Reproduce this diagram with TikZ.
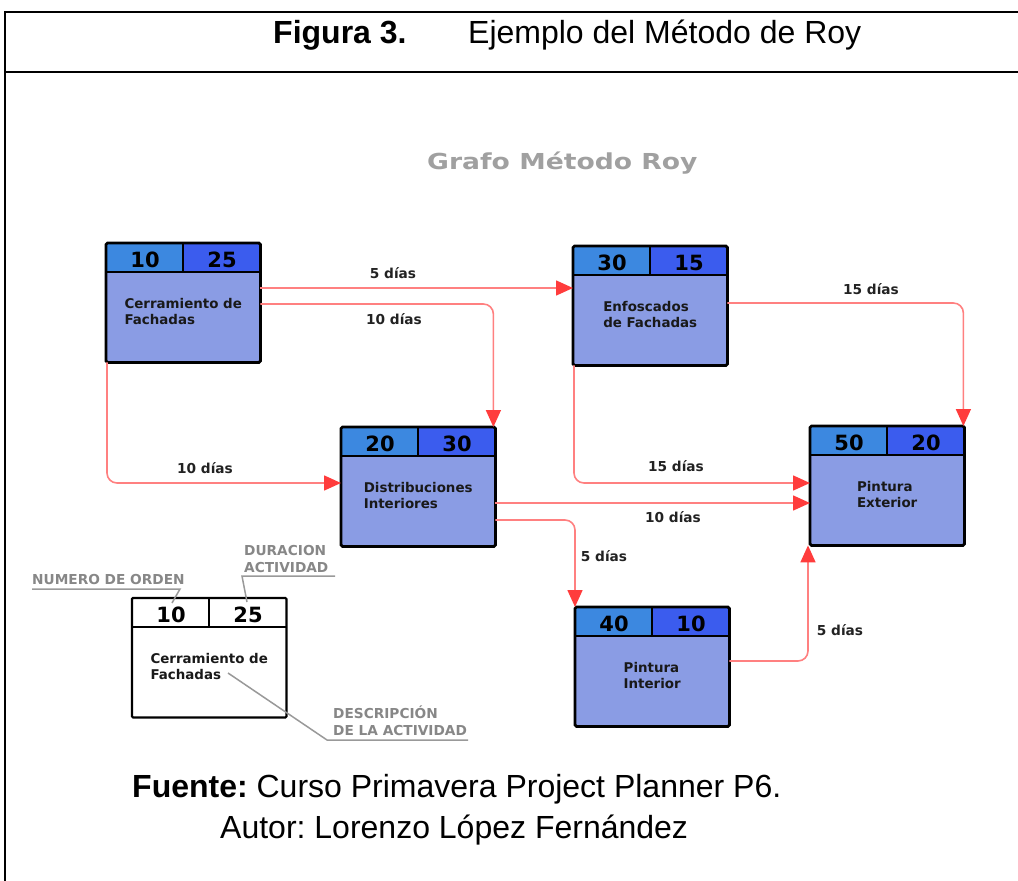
\documentclass[tikz,border=0pt]{standalone}
\usepackage{fontspec}
\setmainfont{Liberation Sans}
\newfontfamily\diagfont{DejaVu Sans}
\usetikzlibrary{arrows.meta}
\frenchspacing

\definecolor{hdrA}{RGB}{60,136,224}
\definecolor{hdrB}{RGB}{59,92,238}
\definecolor{bodyC}{RGB}{138,156,228}
\definecolor{linkC}{RGB}{255,128,128}
\definecolor{tipC}{RGB}{255,60,60}
\definecolor{noteC}{RGB}{135,135,135}
\definecolor{labelC}{RGB}{34,34,34}
\definecolor{titleC}{RGB}{160,160,160}

\tikzset{
  actshape/.style={minimum width=154pt, minimum height=119pt, inner sep=0pt, anchor=north west},
  colorbody/.style={fill=bodyC},
  colorA/.style={fill=hdrA},
  colorB/.style={fill=hdrB},
  colorrim/.style={draw=black, line width=2.8pt, rounded corners=1.5pt},
  plainbody/.style={fill=white},
  plainA/.style={fill=white},
  plainB/.style={fill=white},
  plainrim/.style={draw=black, line width=2.2pt, rounded corners=1pt},
  num/.style={font=\diagfont\bfseries\fontsize{21}{21}\selectfont, inner sep=0pt},
  desc/.style={font=\diagfont\bfseries\fontsize{13.4}{16}\selectfont, text=black!90, align=left, anchor=north, inner sep=0pt},
  link/.style={draw=linkC, line width=1.6pt, rounded corners=10pt,
    -{Triangle[length=17pt,width=15pt,color=tipC]}},
  days/.style={font=\diagfont\bfseries\fontsize{13.7}{16}\selectfont, text=labelC, anchor=base, inner sep=0pt},
  note/.style={font=\diagfont\bfseries\fontsize{13.7}{16}\selectfont, text=noteC, anchor=base west, inner sep=0pt},
  leader/.style={draw=noteC!85, line width=1.5pt},
  frameline/.style={draw=black, line width=2pt},
  caption/.style={anchor=base west, inner sep=0pt, font=\fontsize{32}{32}\selectfont},
}

% activity box: name, position, look (color/plain), order number, duration, description
\newcommand\activity[6]{%
  \node[actshape, #3body] (#1) at #2 {};
  \fill[#3A] (#1.north west) rectangle ([xshift=77pt,yshift=-29pt]#1.north west);
  \fill[#3B] ([xshift=77pt]#1.north west) rectangle ([yshift=-29pt]#1.north east);
  \draw[#3rim] (#1.north west) rectangle (#1.south east);
  \draw[#3rim, rounded corners=0pt] ([yshift=-29pt]#1.north west) -- ([yshift=-29pt]#1.north east);
  \draw[#3rim, rounded corners=0pt] ([xshift=77pt]#1.north west) -- ([xshift=77pt,yshift=-29pt]#1.north west);
  \node[num] (#1-n) at ([xshift=39pt,yshift=-16.5pt]#1.north west) {#4};
  \node[num] (#1-d) at ([xshift=116pt,yshift=-16.5pt]#1.north west) {#5};
  \node[desc] (#1-t) at ([yshift=-55pt]#1.north) {#6};
}

\begin{document}
\begin{tikzpicture}[x=1pt, y=-1pt]
\useasboundingbox (0,0) rectangle (1018,881);

% table frame
\draw[frameline] (5,881) -- (5,12) -- (1018,12);
\draw[frameline] (5,72) -- (1018,72);

% caption
\node[caption, font=\fontsize{32}{32}\selectfont\bfseries] (fig) at (273,43) {Figura 3.};
\node[caption] (cap) at (468,43) {Ejemplo del Método de Roy};

% graph heading
\node[anchor=base west, inner sep=0pt, text=titleC, font=\diagfont\bfseries\fontsize{22}{22}\selectfont] (head) at (427,169) {\scalebox{1.21}[1]{Grafo Método Roy}};

% activities
\activity{B1}{(106,243)}{color}{10}{25}{Cerramiento de\\Fachadas}
\activity{B2}{(341,427)}{color}{20}{30}{Distribuciones\\Interiores}
\activity{B3}{(573,246)}{color}{30}{15}{Enfoscados\\de Fachadas}
\activity{B4}{(810,426)}{color}{50}{20}{Pintura\\Exterior}
\activity{B5}{(575,607)}{color}{40}{10}{Pintura\\Interior}

% precedences
\draw[link] ([yshift=-45pt]B1.north east) -- ([yshift=-42pt]B3.north west);
\draw[link] ([yshift=-61pt]B1.north east) -| ([xshift=-2pt]B2.north east);
\draw[link] ([xshift=1pt]B1.south west) |- ([yshift=-56pt]B2.north west);
\draw[link] ([yshift=-57pt]B3.north east) -| ([xshift=-1pt]B4.north east);
\draw[link] ([xshift=1pt]B3.south west) |- ([yshift=-57pt]B4.north west);
\draw[link] ([yshift=-76pt]B2.north east) -- ([yshift=-77pt]B4.north west);
\draw[link] ([yshift=-93pt]B2.north east) -| (B5.north west);
\draw[link] ([yshift=-54pt]B5.north east) -| ([xshift=-2pt]B4.south west);

% lags
\node[days] (d1) at (393,278) {5 días};
\node[days] (d2) at (394,324) {10 días};
\node[days] (d3) at (205,473) {10 días};
\node[days] (d4) at (871,294) {15 días};
\node[days] (d5) at (676,471) {15 días};
\node[days] (d6) at (673,522) {10 días};
\node[days] (d7) at (604,561) {5 días};
\node[days] (d8) at (840,635) {5 días};

% legend
\activity{L}{(132,598)}{plain}{10}{25}{Cerramiento de\\Fachadas}

\node[note] (nOrden) at (32,584) {NUMERO DE ORDEN};
\node[note] (nDur1) at (244,555) {DURACION};
\node[note] (nDur2) at (244,572) {ACTIVIDAD};
\node[note] (nDesc1) at (333,718) {DESCRIPCIÓN};
\node[note] (nDesc2) at (333,735) {DE LA ACTIVIDAD};

\coordinate (pOrden) at (172,603);
\coordinate (pDur) at (247,602);
\coordinate (pDesc) at (228,673);
\draw[leader] (32,589) -- (180,589) -- (pOrden);
\draw[leader] (335,576) -- (242,576) -- (pDur);
\draw[leader] (468,740) -- (327,740) -- (pDesc);

% source
\node[caption] (src) at (132,797) {\textbf{Fuente:} Curso Primavera Project Planner P6.};
\node[caption] (aut) at (220,838) {Autor: Lorenzo López Fernández};
\end{tikzpicture}
\end{document}
